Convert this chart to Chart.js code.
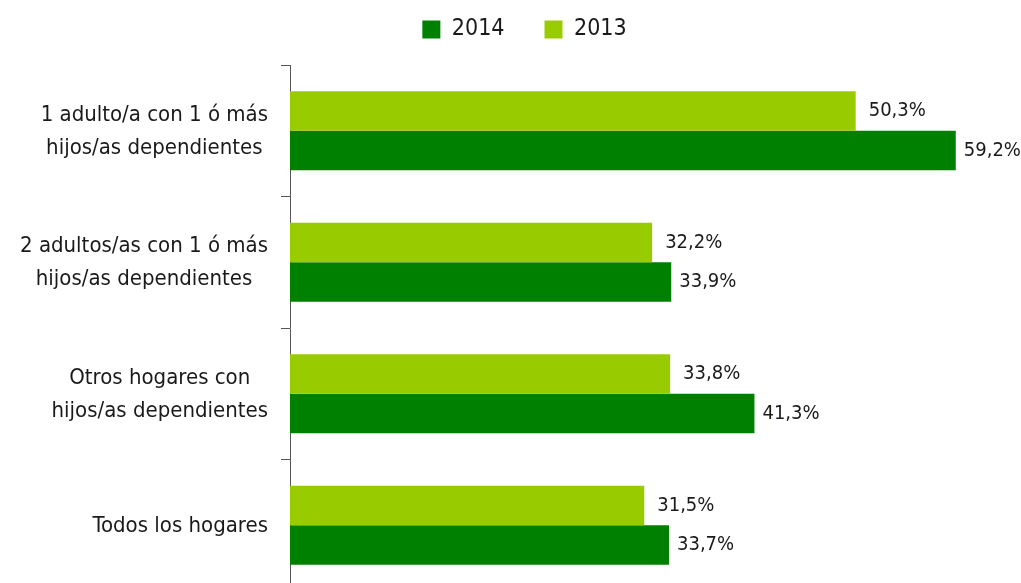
<!DOCTYPE html>
<html>
<head>
<meta charset="utf-8">
<script src="https://cdn.jsdelivr.net/npm/chart.js@4/dist/chart.umd.min.js"></script>
<style>
  html, body { margin: 0; padding: 0; background: #fff; overflow: hidden; }
  #wrap { width: 1021px; height: 591px; }
</style>
</head>
<body>
<div id="wrap"><canvas id="myChart"></canvas></div>
<script>
// data
const categories = [
  ["1 adulto/a con 1 ó más", "hijos/as dependientes"],
  ["2 adultos/as con 1 ó más", "hijos/as dependientes"],
  ["Otros hogares con", "hijos/as dependientes"],
  ["Todos los hogares"],
];
const values2013 = [50.3, 32.2, 33.8, 31.5];
const values2014 = [59.2, 33.9, 41.3, 33.7];

const FONT = "'Liberation Sans Narrow', 'DejaVu Sans Condensed', 'Roboto', sans-serif";
const TEXT = "#1a1a1a";

// value labels at the end of each bar
const valueLabels = {
  id: "valueLabels",
  afterDatasetsDraw(chart) {
    const ctx = chart.ctx;
    ctx.save();
    ctx.font = "20px " + FONT;
    ctx.fillStyle = TEXT;
    ctx.textAlign = "left";
    ctx.textBaseline = "middle";
    chart.data.datasets.forEach((ds, i) => {
      const gap = i === 0 ? 13 : 8;
      chart.getDatasetMeta(i).data.forEach((bar, j) => {
        const txt = ds.data[j].toFixed(1).replace(".", ",") + "%";
        ctx.fillText(txt, bar.x + gap, bar.y);
      });
    });
    ctx.restore();
  },
};

// category labels: block right-aligned to the axis, lines centred inside the block
const categoryLabels = {
  id: "categoryLabels",
  afterDraw(chart) {
    const ctx = chart.ctx;
    const y = chart.scales.y;
    const right = y.right - 22;
    const lh = 33;
    ctx.save();
    ctx.font = "22px " + FONT;
    ctx.fillStyle = TEXT;
    ctx.textAlign = "center";
    ctx.textBaseline = "middle";
    categories.forEach((lines, i) => {
      const w = Math.max(...lines.map((l) => ctx.measureText(l).width));
      const cx = right - w / 2;
      const cy = y.getPixelForValue(i) + 1;
      lines.forEach((l, k) => {
        ctx.fillText(l, cx, cy + (k - (lines.length - 1) / 2) * lh);
      });
    });
    ctx.restore();
  },
};

// extra room under the legend
const legendGap = {
  id: "legendGap",
  beforeInit(chart) {
    const fit = chart.legend.fit;
    chart.legend.fit = function () {
      fit.bind(chart.legend)();
      this.height += 14;
    };
  },
};

const data = {
  labels: categories.map((c) => c.join(" ")),
  datasets: [
    {
      label: "2013",
      data: values2013,
      backgroundColor: "#99cc00",
      categoryPercentage: 0.6,
      barPercentage: 1.0,
    },
    {
      label: "2014",
      data: values2014,
      backgroundColor: "#008000",
      categoryPercentage: 0.6,
      barPercentage: 1.0,
    },
  ],
};

const config = {
  type: "bar",
  data,
  options: {
    indexAxis: "y",
    responsive: true,
    maintainAspectRatio: false,
    animation: false,
    layout: { padding: { left: 28, right: 0, top: -22, bottom: 0 } },
    plugins: {
      legend: {
        reverse: true,
        labels: {
          boxWidth: 18,
          boxHeight: 18,
          padding: 40,
          color: TEXT,
          font: { family: FONT, size: 23 },
        },
      },
      tooltip: { enabled: false },
    },
    scales: {
      x: {
        display: false,
        min: 0,
        max: 65,
      },
      y: {
        offset: true,
        grid: {
          drawOnChartArea: false,
          drawTicks: true,
          tickLength: 9,
          offset: true,
          color: "#555",
        },
        border: { color: "#555", width: 1 },
        ticks: { display: false },
        afterFit(scale) {
          scale.width = 262;
        },
      },
    },
  },
  plugins: [valueLabels, categoryLabels, legendGap],
};

const myChart = new Chart(document.getElementById("myChart"), config);
</script>
</body>
</html>
